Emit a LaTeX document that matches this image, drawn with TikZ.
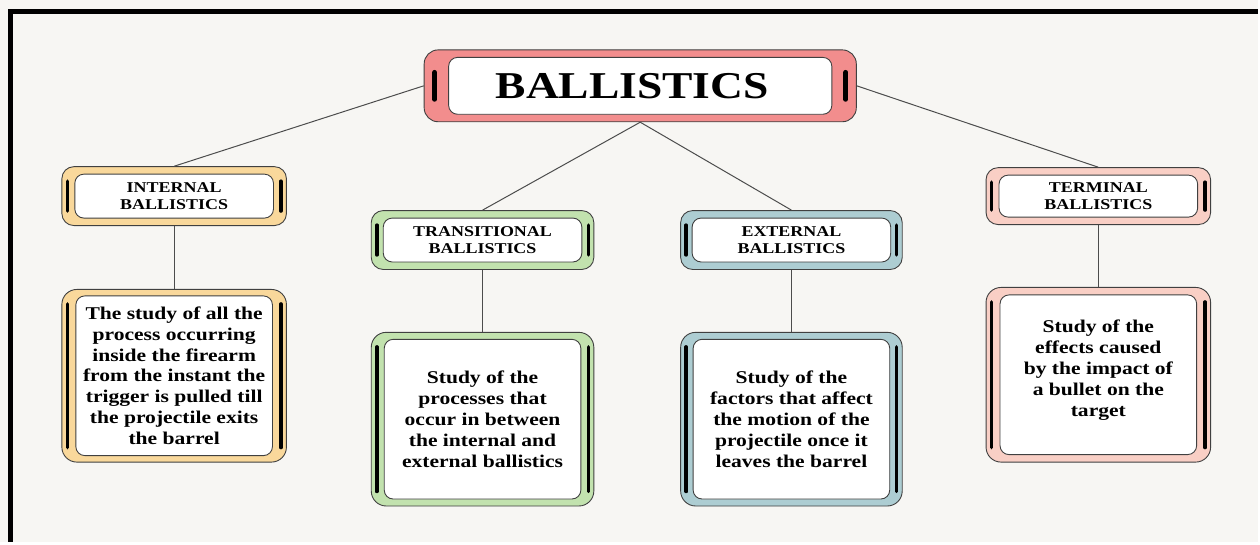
\documentclass[tikz,border=0pt]{standalone}
\usepackage{fontspec}
\setmainfont{Liberation Serif}[FakeStretch=1.2]
\definecolor{paper}{HTML}{F7F6F3}
\definecolor{titlecol}{HTML}{F28D8D}
\definecolor{intcol}{HTML}{F9D89B}
\definecolor{transcol}{HTML}{C2E2AE}
\definecolor{extcol}{HTML}{ADCDD2}
\definecolor{termcol}{HTML}{F9CFC5}

\begin{document}
\begin{tikzpicture}[x=1pt,y=-1pt]
\tikzstyle{outerbox} = [rectangle, draw=black!75, line width=0.9pt,
rounded corners=12pt, inner sep=0pt]
\tikzstyle{innerbox} = [rectangle, draw=black!75, line width=0.9pt, fill=white,
rounded corners=9pt, align=center, inner sep=0pt]
\tikzstyle{headbox} = [innerbox, minimum width=199, minimum height=44,
font=\bfseries\fontsize{15}{17}\selectfont]
\tikzstyle{bodybox} = [innerbox, minimum width=197, minimum height=160,
font=\bfseries\fontsize{18}{21}\selectfont]
\tikzstyle{barline} = [line width=3.5pt, line cap=round]
\tikzstyle{link} = [draw=black!70, line width=1pt]

% paper and frame
\fill[paper] (0,0) rectangle (1260,543);
\draw[line width=5pt] (10.5,543) -- (10.5,12) -- (1260,12);

% title
\node[outerbox, fill=titlecol, minimum width=433, minimum height=72,
rounded corners=14pt] (title) at (641.5,86) {};
\node[innerbox, minimum width=384, minimum height=57,
font=\bfseries\fontsize{38}{40}\selectfont] (titlein) at (title) {BALLISTICS\hspace*{16pt}};
\draw[barline, line width=5pt]
([xshift=11pt,yshift=-23pt]title.north west) -- ([xshift=11pt,yshift=23pt]title.south west)
([xshift=-11pt,yshift=-23pt]title.north east) -- ([xshift=-11pt,yshift=23pt]title.south east);

% row of headings
\node[outerbox, fill=intcol, minimum width=225, minimum height=59] (inth) at (174.5,196.5) {};
\node[headbox] (inthin) at (inth) {INTERNAL\\BALLISTICS};
\node[outerbox, fill=transcol, minimum width=223, minimum height=59] (transh) at (483.5,240.5) {};
\node[headbox] (transhin) at (transh) {TRANSITIONAL\\BALLISTICS};
\node[outerbox, fill=extcol, minimum width=222, minimum height=59] (exth) at (793,240.5) {};
\node[headbox] (exthin) at (exth) {EXTERNAL\\BALLISTICS};
\node[outerbox, fill=termcol, minimum width=225, minimum height=57] (termh) at (1100.5,196.5) {};
\node[headbox, minimum height=42] (termhin) at (termh) {TERMINAL\\BALLISTICS};

% row of descriptions
\node[outerbox, fill=intcol, minimum width=225, minimum height=173,
rounded corners=15pt] (intb) at (174.5,376.5) {};
\node[bodybox] (intbin) at (intb) {The study of all the\\process occurring\\inside the firearm\\
from the instant the\\trigger is pulled till\\the projectile exits\\the barrel};
\node[outerbox, fill=transcol, minimum width=223, minimum height=174,
rounded corners=15pt] (transb) at (483.5,420) {};
\node[bodybox] (transbin) at (transb) {Study of the\\processes that\\occur in between\\
the internal and\\external ballistics};
\node[outerbox, fill=extcol, minimum width=222, minimum height=174,
rounded corners=15pt] (extb) at (793,420) {};
\node[bodybox] (extbin) at (extb) {Study of the\\factors that affect\\the motion of the\\
projectile once it\\leaves the barrel};
\node[outerbox, fill=termcol, minimum width=225, minimum height=175,
rounded corners=15pt] (termb) at (1100.5,375.5) {};
\node[bodybox] (termbin) at (termb) {};
\node[font=\bfseries\fontsize{18}{21}\selectfont, align=center] (termtext)
  at ([yshift=5pt]termb.center) {Study of the\\effects caused\\by the impact of\\
a bullet on the\\target};

% side bars
\foreach \n in {inth,transh,exth,termh,intb,transb,extb,termb}
  \draw[barline]
  ([xshift=6pt,yshift=-15pt]\n.north west) -- ([xshift=6pt,yshift=15pt]\n.south west)
  ([xshift=-6pt,yshift=-15pt]\n.north east) -- ([xshift=-6pt,yshift=15pt]\n.south east);

% connectors
\path[link] (title.west) -- (inth.north);
\path[link] (title.south) -- (transh.north);
\path[link] (title.south) -- (exth.north);
\path[link] (title.east) -- (termh.north);
\foreach \a/\b in {inth/intb,transh/transb,exth/extb,termh/termb}
  \path[link] (\a.south) -- (\b.north);

\end{tikzpicture}
\end{document}
